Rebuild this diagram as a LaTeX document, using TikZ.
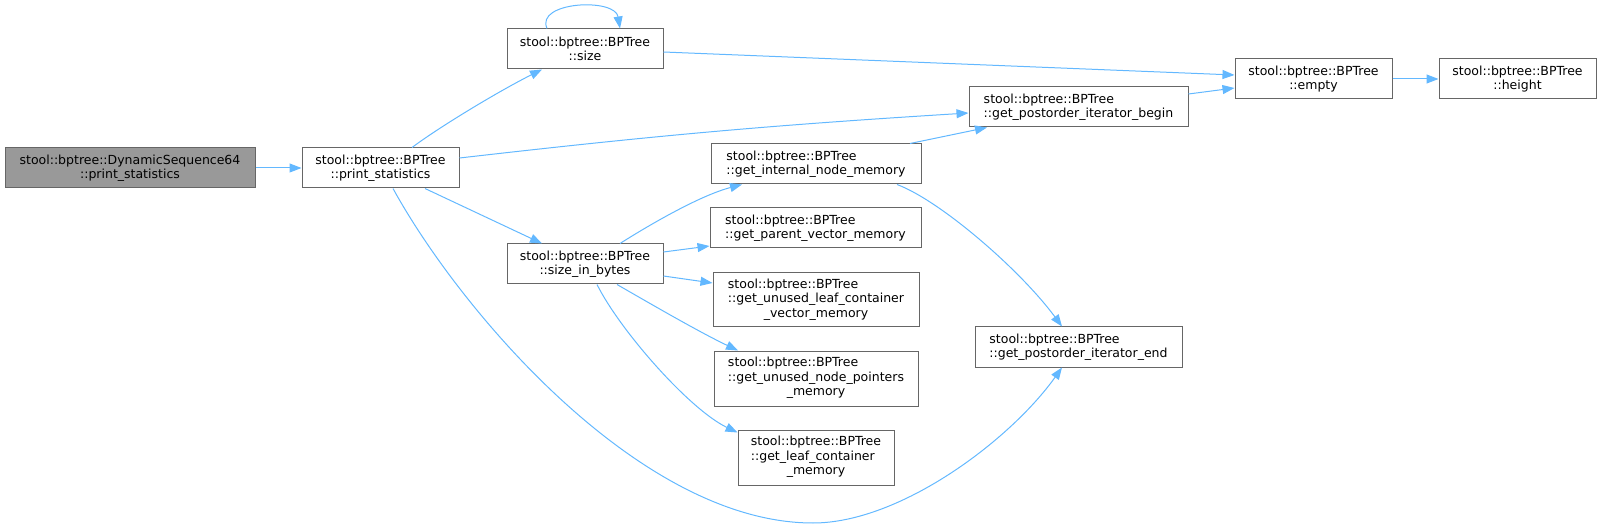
\documentclass[tikz,border=0pt]{standalone}
\usepackage{fontspec}
\setmainfont{DejaVu Sans}
\usetikzlibrary{arrows.meta}
\definecolor{edgecol}{HTML}{63B8FF}
\definecolor{bordercol}{HTML}{666666}
\definecolor{graycol}{HTML}{999999}
\newcommand{\lastc}[1]{\multicolumn{1}{@{}c@{}}{#1}}
\begin{document}
\begin{tikzpicture}[x=1pt,y=-1pt,
  box/.style={draw=bordercol, line width=1pt, fill=white, inner sep=0pt,
    font=\fontsize{12.5}{14.5}\selectfont},
  twoline/.style={box, minimum height=40pt},
  threeline/.style={box, minimum height=55pt},
  edge/.style={draw=edgecol, line width=1pt, -{Triangle[length=12pt,width=9pt]}}]
\useasboundingbox (0,0) rectangle (1601,529);

% nodes
\node[twoline, fill=graycol, minimum width=250pt, align=center] (A) at (130,168)
  {stool::bptree::DynamicSequence64\\::print\_statistics};
\node[twoline, minimum width=157pt, align=center] (B) at (380.5,168)
  {stool::bptree::BPTree\\::print\_statistics};
\node[twoline, minimum width=156pt, align=center] (size) at (585,49)
  {stool::bptree::BPTree\\::size};
\node[twoline, minimum width=156pt, align=center] (sib) at (585,264)
  {stool::bptree::BPTree\\::size\_in\_bytes};
\node[twoline, minimum width=210pt, align=left] (internal) at (816,164)
  {stool::bptree::BPTree\\::get\_internal\_node\_memory};
\node[twoline, minimum width=211pt, align=left] (parent) at (815.5,228)
  {stool::bptree::BPTree\\::get\_parent\_vector\_memory};
\node[box, minimum width=206pt, minimum height=54pt] (ulcv) at (816,300)
  {\begin{tabular}{@{}l@{}}stool::bptree::BPTree\\::get\_unused\_leaf\_container\\\lastc{\_vector\_memory}\end{tabular}};
\node[threeline, minimum width=204pt] (unp) at (816,378.5)
  {\begin{tabular}{@{}l@{}}stool::bptree::BPTree\\::get\_unused\_node\_pointers\\\lastc{\_memory}\end{tabular}};
\node[threeline, minimum width=156pt] (lcm) at (816,457.5)
  {\begin{tabular}{@{}l@{}}stool::bptree::BPTree\\::get\_leaf\_container\\\lastc{\_memory}\end{tabular}};
\node[twoline, minimum width=219pt, align=left] (begin) at (1078.5,107)
  {stool::bptree::BPTree\\::get\_postorder\_iterator\_begin};
\node[twoline, minimum width=207pt, align=left] (end) at (1078.5,347)
  {stool::bptree::BPTree\\::get\_postorder\_iterator\_end};
\node[twoline, minimum width=157pt, align=center] (empty) at (1313.5,79)
  {stool::bptree::BPTree\\::empty};
\node[twoline, minimum width=157pt, align=center] (height) at (1517.5,79)
  {stool::bptree::BPTree\\::height};

\coordinate (low) at (813,523);

% edges
\draw[edge] (A.east) -- (B.west);
\draw[edge] ([xshift=31.5pt]B.north) .. controls +(28,-21) and +(-42,21) .. ([xshift=-43pt]size.south);
\draw[edge] ([xshift=-38pt]size.north) .. controls +(-12,-27) and +(-5,-31) .. ([xshift=35pt]size.north);
\draw[edge] ([yshift=-3pt]size.east) -- ([yshift=4pt]empty.west);
\draw[edge] ([yshift=10pt]B.east) to[bend left=1.5] ([yshift=-6pt]begin.west);
\draw[edge] ([yshift=13pt]begin.east) -- ([yshift=-9pt]empty.west);
\draw[edge] (empty.east) -- (height.west);
\draw[edge] ([xshift=44.5pt]B.south) -- ([xshift=-43pt]sib.north);
\draw[edge] ([xshift=12.5pt]B.south) .. controls +(67,122) and +(-173,0) .. (low)
  .. controls +(87,0) and +(-52,73) .. ([xshift=-16.5pt]end.south);
\draw[edge] ([xshift=35pt]sib.north) .. controls +(30,-19) and +(-42,11) .. ([xshift=-74pt]internal.south);
\draw[edge] ([yshift=12pt]sib.east) -- ([yshift=-18pt]parent.west);
\draw[edge] ([yshift=-12pt]sib.east) -- ([yshift=17pt]ulcv.west);
\draw[edge] ([xshift=32pt]sib.south) .. controls +(33,19) and +(-38,-18) .. ([xshift=-78pt]unp.north);
\draw[edge] ([xshift=12pt]sib.south) .. controls +(23,46) and +(-48,-23) .. ([yshift=-3pt]lcm.north west);
\draw[edge] ([xshift=94pt]internal.north) -- ([xshift=-91.5pt]begin.south);
\draw[edge] ([xshift=81pt]internal.south) .. controls +(43,16) and +(-42,-57) .. ([xshift=-16.5pt]end.north);
\end{tikzpicture}
\end{document}
